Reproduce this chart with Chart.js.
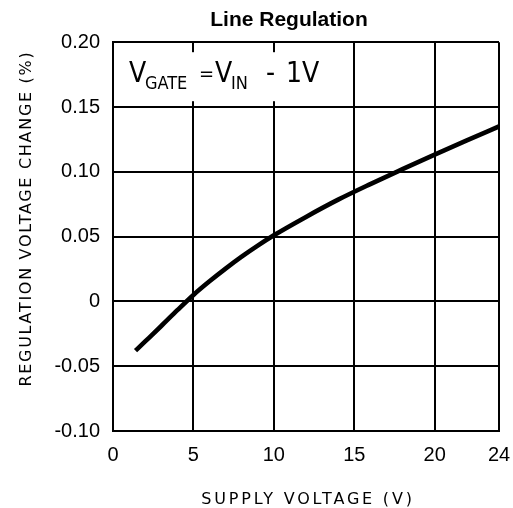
<!DOCTYPE html>
<html><head><meta charset="utf-8">
<script src="https://cdn.jsdelivr.net/npm/chart.js@4.4.0/dist/chart.umd.min.js"></script>
<style>html,body{margin:0;padding:0;background:#fff}#wrap{width:513px;height:508px}</style>
</head><body><div id="wrap"><canvas id="c" width="513" height="508"></canvas></div>
<script>
const supplyVoltage = [1.4, 2, 3, 4, 5, 6, 7, 8, 9, 10, 12, 14, 16, 18, 20, 22, 24];
const regulationChange = [-0.038, -0.0309, -0.019, -0.0068, 0.005, 0.0155, 0.0253, 0.0345, 0.043, 0.051, 0.0652, 0.0785, 0.0905, 0.102, 0.1133, 0.1243, 0.135];
const xTickValues = [0, 5, 10, 15, 20, 24];
const yTickValues = [-0.10, -0.05, 0, 0.05, 0.10, 0.15, 0.20];
const titleText = 'Line Regulation';
const xTitleText = 'SUPPLY VOLTAGE (V)';
const yTitleText = 'REGULATION VOLTAGE CHANGE (%)';
const annotationParts = [
  {text: 'V', size: 28, dy: 40, dx: 16},
  {text: 'GATE', size: 18, dy: 47, dx: 32},
  {text: '=', size: 20, dy: 38, dx: 86},
  {text: 'V', size: 28, dy: 40, dx: 102},
  {text: 'IN', size: 18, dy: 47, dx: 118},
  {text: '-', size: 28, dy: 40, dx: 153},
  {text: '1V', size: 28, dy: 40, dx: 173}
];

const axisFont = '"DejaVu Sans", sans-serif';
const annFont = '"DejaVu Sans Condensed", "DejaVu Sans", sans-serif';
const tickFont = {family: '"Liberation Sans", Arial, sans-serif', size: 20};

const tweak = {
  id: 'tweak',
  afterLayout(chart) {
    const ys = chart.scales.y, xs = chart.scales.x, tb = chart.titleBlock;
    if (ys && !ys._wrapped) {
      const o = ys.drawTitle;
      ys.drawTitle = function () { const c = this.ctx; c.save(); c.letterSpacing = '1.7px'; c.translate(0, -18); o.call(this); c.restore(); };
      ys._wrapped = true;
    }
    if (xs && !xs._wrapped) {
      const o = xs.drawTitle;
      xs.drawTitle = function () { const c = this.ctx; c.save(); c.letterSpacing = '2.8px'; c.translate(2, 0); o.call(this); c.restore(); };
      xs._wrapped = true;
    }
    if (tb && !tb._wrapped) {
      const o = tb.draw;
      tb.draw = function (a) { const c = this.ctx; c.save(); c.translate(289 - (this.left + this.right) / 2, 0); o.call(this, a); c.restore(); };
      tb._wrapped = true;
    }
  },
  beforeDatasetsDraw(chart) {
    const {ctx, chartArea} = chart;
    const L = chartArea.left, T = chartArea.top;
    ctx.save();
    ctx.fillStyle = '#fff';
    ctx.fillRect(L + 3, T + 10, 206, 49);
    ctx.fillStyle = '#000';
    ctx.textBaseline = 'alphabetic';
    ctx.textAlign = 'left';
    annotationParts.forEach(p => {
      ctx.font = p.size + 'px ' + annFont;
      ctx.fillText(p.text, L + p.dx, T + p.dy);
    });
    ctx.restore();
  }
};

new Chart(document.getElementById('c').getContext('2d'), {
  type: 'line',
  data: {
    datasets: [{
      data: supplyVoltage.map((x, i) => ({x: x, y: regulationChange[i]})),
      borderColor: '#000', borderWidth: 4.6, pointRadius: 0, cubicInterpolationMode: 'monotone', fill: false
    }]
  },
  options: {
    responsive: false, animation: false, devicePixelRatio: 1,
    layout: {padding: 0},
    plugins: {
      legend: {display: false}, tooltip: {enabled: false},
      title: {display: true, text: titleText, color: '#000',
        font: {family: '"Liberation Sans", Arial, sans-serif', size: 21, weight: 'bold'},
        padding: {top: 8, bottom: 9}}
    },
    scales: {
      x: {
        type: 'linear', min: 0, max: 24,
        afterBuildTicks: s => { s.ticks = xTickValues.map(v => ({value: v})); },
        afterFit: s => { s.height = 77; s.paddingRight = 14; s.paddingLeft = 0; },
        grid: {color: '#000', lineWidth: 2, drawTicks: false},
        border: {color: '#000', width: 2},
        ticks: {color: '#000', font: tickFont, padding: 12, maxRotation: 0, autoSkip: false, callback: v => String(v)},
        title: {display: true, text: xTitleText, color: '#000', font: {family: axisFont, size: 16}, padding: {top: 0, bottom: -1}}
      },
      y: {
        type: 'linear', min: -0.10, max: 0.20,
        afterBuildTicks: s => { s.ticks = yTickValues.map(v => ({value: v})); },
        afterFit: s => { s.width = 113; },
        grid: {color: '#000', lineWidth: 2, drawTicks: false},
        border: {color: '#000', width: 2},
        ticks: {color: '#000', font: tickFont, padding: 13, autoSkip: false,
          callback: v => Math.abs(v) < 1e-9 ? '0' : v.toFixed(2)},
        title: {display: true, text: yTitleText, color: '#000', font: {family: axisFont, size: 16}, padding: {top: 17, bottom: 0}}
      }
    }
  },
  plugins: [tweak]
});
</script>
</body></html>
